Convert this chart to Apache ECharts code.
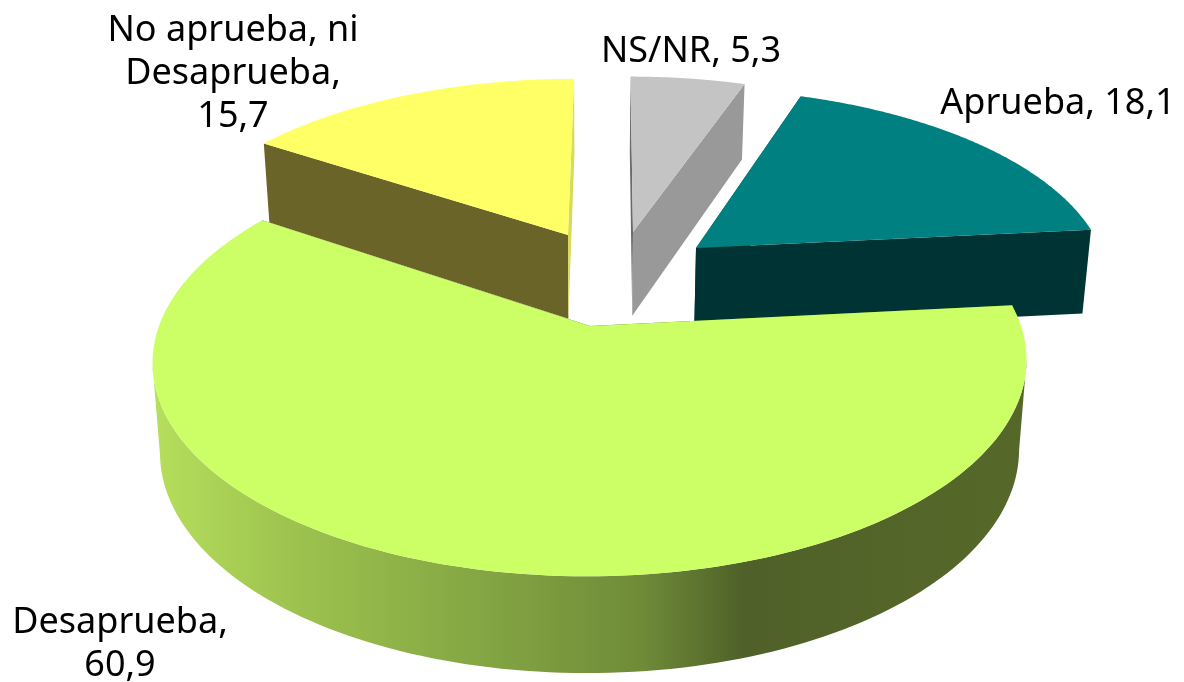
<!DOCTYPE html>
<html><head><meta charset="utf-8">
<style>html,body{margin:0;padding:0;background:#fff}#c{width:1184px;height:682px}</style>
<script src="https://cdn.jsdelivr.net/npm/echarts@6/dist/echarts.min.js"></script>
</head><body><div id="c"></div>
<script>
const categories = ['NS/NR', 'Aprueba', 'Desaprueba', 'No aprueba, ni\nDesaprueba'];
const values = [5.3, 18.1, 60.9, 15.7];
const separators = [', ', ', ', ',\n', ',\n'];
const topColors = ['#C4C4C4', '#008080', '#CCFF66', '#FFFF66'];
const startCutColors = ['#6A6A6A', '#005050', '#4F6128', '#6B6428'];
const endCutColors = ['#999999', '#003333', '#4F6128', '#D9D95A'];

// Projection of the tilted pie (perspective on the disc plane)
const cx = 590, cy = 326, Rx = 431, Ry = 209, k = 0.165, depth = 88, skew = 3;
const apexes = [[633, 232], [696, 248], [590, 326], [568, 235]];
const labelAnchors = [[691, 52], [1058, 104], [120, 644], [233, 74]];
const z = [2, 3, 4, 1];

function project(u, v) { const w = 1 - k * v; return [cx + Rx * u / w - skew * v, cy + Ry * v / w]; }
function unproject(p) {
  const Y = (p[1] - cy) / Ry, v = Y / (1 + k * Y), w = 1 - k * v;
  return [(p[0] - cx + skew * v) * w / Rx, v];
}
function lower(u, v) {
  const p = project(u, v);
  return [cx + (p[0] - cx) * 0.983, p[1] + depth * (1 + 0.1 * v)];
}
const total = values.reduce((a, b) => a + b, 0);

function renderItem(params, api) {
  const i = params.dataIndex;
  const before = values.slice(0, i).reduce((a, b) => a + b, 0);
  const a0 = before / total * 2 * Math.PI;
  const a1 = a0 + api.value(0) / total * 2 * Math.PI;
  const o = unproject(apexes[i]);
  const pts = [];
  const n = 160;
  for (let s = 0; s <= n; s++) {
    const a = a0 + (a1 - a0) * s / n;
    pts.push([o[0] + Math.sin(a), o[1] - Math.cos(a)]);
  }
  const top = pts.map(q => project(q[0], q[1]));
  const bot = pts.map(q => lower(q[0], q[1]));
  const apexTop = project(o[0], o[1]);
  const apexBot = lower(o[0], o[1]);
  const children = [];
  const poly = (points, fill, zz) => children.push({ type: 'polygon', z2: zz, shape: { points }, style: { fill, stroke: null } });
  poly([apexTop, top[0], bot[0], apexBot], startCutColors[i], z[i] * 10);
  poly([apexTop, top[n], bot[n], apexBot], endCutColors[i], z[i] * 10 + 1);
  if (a0 < Math.PI && a1 > Math.PI) {
    // the visible wall runs between the two silhouette points of the rim
    let iR = 0, iL = 0;
    top.forEach((p, j) => { if (p[0] > top[iR][0]) iR = j; if (p[0] < top[iL][0]) iL = j; });
    const grad = new echarts.graphic.LinearGradient(0, 0, 1, 0, [
      { offset: 0, color: '#B6DF5C' },
      { offset: 0.165, color: '#9DC24E' },
      { offset: 0.397, color: '#82A342' },
      { offset: 0.56, color: '#6F8B38' },
      { offset: 0.675, color: '#4F6128' },
      { offset: 1, color: '#566829' }
    ]);
    poly(top.slice(iR, iL + 1).concat(bot.slice(iR, iL + 1).reverse()), grad, z[i] * 10 + 2);
  }
  poly([apexTop].concat(top), topColors[i], z[i] * 10 + 3);
  const name = categories[i] + separators[i] + api.value(0).toFixed(1).replace('.', ',');
  children.push({
    type: 'text', z2: 100,
    style: {
      x: labelAnchors[i][0], y: labelAnchors[i][1], text: name,
      font: '36px "Noto Sans"', lineHeight: 43, fill: '#000',
      align: 'center', verticalAlign: 'middle'
    }
  });
  return { type: 'group', children };
}

const chart = echarts.init(document.getElementById('c'), null, { renderer: 'canvas' });
chart.setOption({
  animation: false,
  backgroundColor: '#fff',
  series: [{
    type: 'custom', coordinateSystem: 'none', renderItem,
    data: values.map((v, i) => ({ name: categories[i], value: [v] }))
  }]
});
</script></body></html>
